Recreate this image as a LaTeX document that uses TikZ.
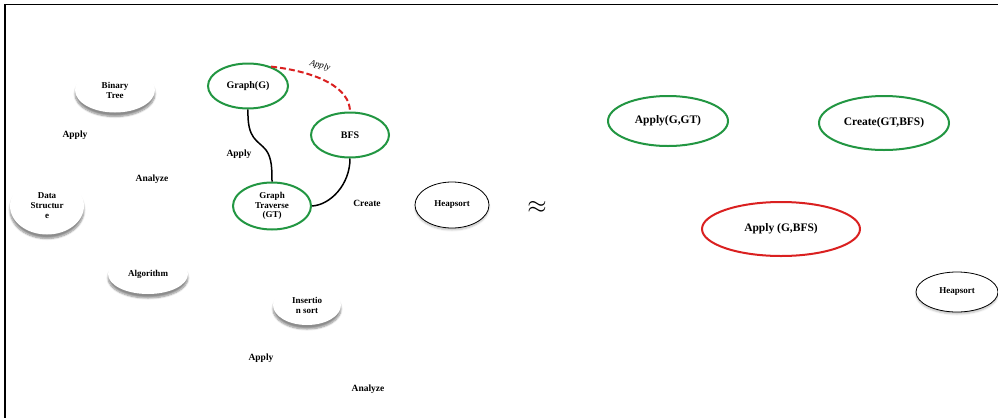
\documentclass[tikz,border=0pt]{standalone}
\usepackage{fontspec}
\setmainfont{Liberation Serif}
\usetikzlibrary{shapes.geometric,shadows.blur}
\definecolor{nodegreen}{RGB}{34,150,66}
\definecolor{nodered}{RGB}{218,32,32}
\tikzset{
  x=1pt, y=-1pt,
  every node/.style={font=\bfseries},
  topic/.style={ellipse, fill=white, minimum width=#1, inner sep=1pt, align=center,
    font=\bfseries\fontsize{9}{10}\selectfont,
    blur shadow={shadow xshift=0pt, shadow yshift=-4pt, shadow blur steps=7, shadow opacity=45}},
  concept/.style={ellipse, draw=nodegreen, line width=2pt, fill=white, inner sep=1pt,
    align=center, minimum width=#1, font=\bfseries\fontsize{10}{11}\selectfont},
  relation/.style={ellipse, draw=nodegreen, line width=2pt, fill=white,
    minimum width=#1, font=\bfseries\fontsize{11.5}{12}\selectfont},
  plain/.style={ellipse, draw=black, line width=0.8pt, fill=white, minimum width=#1,
    font=\bfseries\fontsize{9}{10}\selectfont,
    blur shadow={shadow xshift=0pt, shadow yshift=-2pt, shadow blur steps=5, shadow opacity=25}},
  lbl/.style={font=\bfseries\fontsize{9.5}{10}\selectfont},
  link/.style={line width=1.5pt, draw=black},
}
\begin{document}
\begin{tikzpicture}
\useasboundingbox (0,0) rectangle (998,418);
% frame
\draw[line width=1.4pt] (998,4.5) -- (5,4.5) -- (5,418);

% topics (shadowed, no outline)
\node[topic=80pt, minimum height=45pt] (bt) at (115,90) {Binary\\Tree};
\node[topic=74pt, minimum height=57pt] (ds) at (47,206) {Data\\Structur\\e};
\node[topic=80pt, minimum height=40pt] (alg) at (148,274) {Algorithm};
\node[topic=68pt, minimum height=40pt] (ins) at (307,305) {Insertio\\n sort};
\node[lbl] (l1) at (75,135) {Apply};
\node[lbl] (l2) at (152,179) {Analyze};
\node[lbl] (l3) at (261,358) {Apply};
\node[lbl] (l4) at (368,389) {Analyze};

% graph concepts
\node[concept=80pt, minimum height=45pt] (g) at (248,86) {Graph(G)};
\node[concept=78pt, minimum height=45pt] (bfs) at (350,135) {BFS};
\node[concept=78pt, minimum height=47pt, font=\bfseries\fontsize{9}{9.5}\selectfont] (gt) at (272,206) {Graph\\Traverse\\(GT)};

\draw[link] (g.south) .. controls (247,140) and (258,140) .. (266,150)
   .. controls (272,158) and (272,170) .. (gt.north);
\draw[link] (bfs.south) .. controls (350,185) and (330,205) .. (gt.east);
\draw[nodered, line width=2pt, dash pattern=on 6pt off 3pt]
   (g.40) .. controls (318,72) and (350,88) .. (bfs.north);
\node[lbl] (ea) at (239,154) {Apply};
\node[lbl] (ec) at (367,203) {Create};
\node[font=\itshape\fontsize{9}{9}\selectfont, rotate=-15] (ed) at (320,66) {Apply};

% heapsort and approximation sign
\node[plain=74pt, minimum height=46pt] (hs1) at (452,205) {Heapsort};
\node[font=\fontsize{34}{34}\selectfont] (approx) at (537,207) {$\approx$};

% relations
\node[relation=120pt, minimum height=50pt] (r1) at (668,121) {Apply(G,GT)};
\node[relation=130pt, minimum height=54pt] (r2) at (884,123) {Create(GT,BFS)};
\node[relation=158pt, minimum height=54pt, draw=nodered] (r3) at (781,229) {Apply (G,BFS)};
\node[plain=82pt, minimum height=40pt] (hs2) at (957,292) {Heapsort};
\end{tikzpicture}
\end{document}
